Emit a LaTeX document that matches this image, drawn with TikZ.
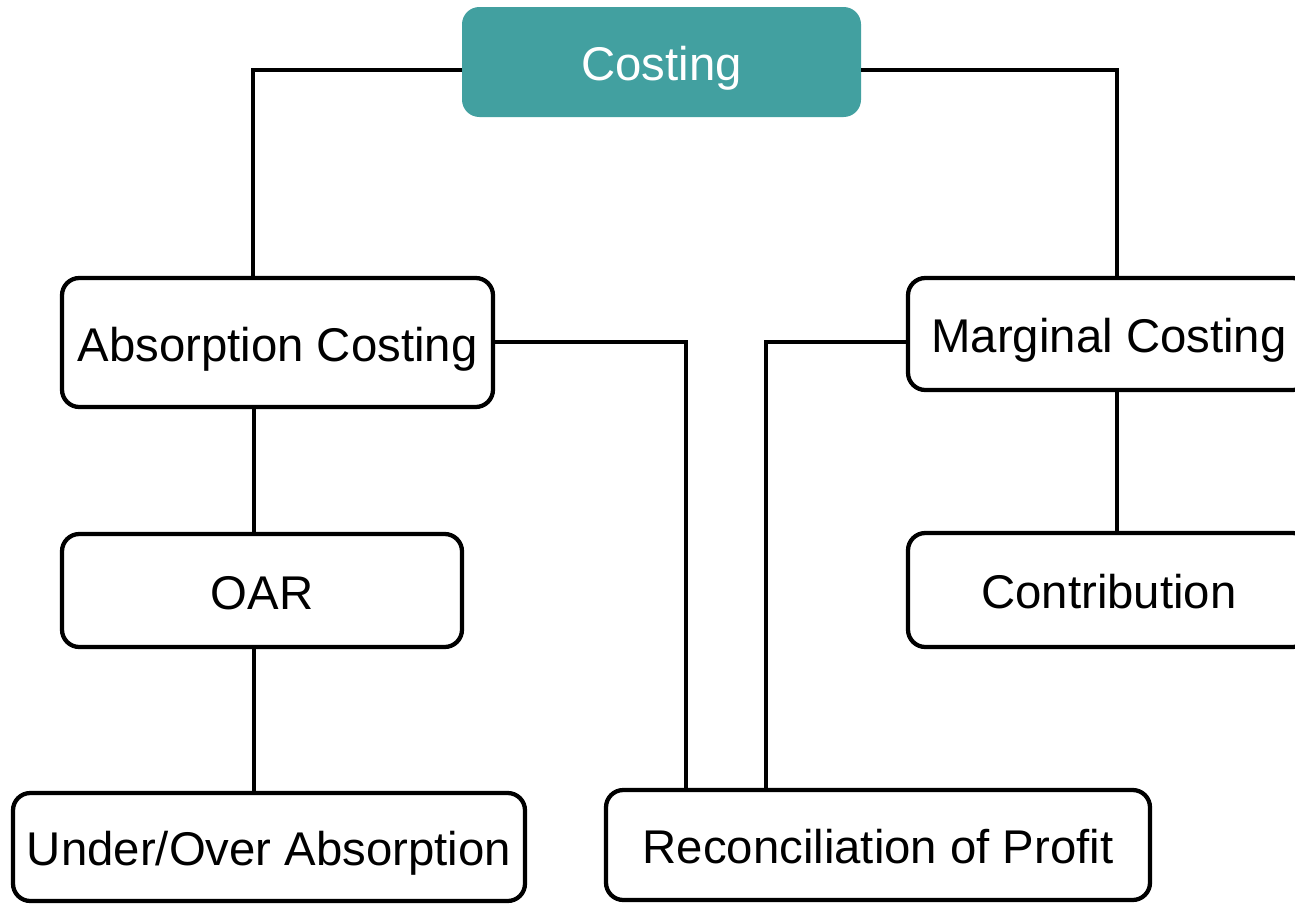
\documentclass[tikz,border=0pt]{standalone}
\usepackage{fontspec}
\setmainfont{Liberation Sans}
\definecolor{tealbox}{RGB}{66,160,160}
\begin{document}
\begin{tikzpicture}[x=0.75pt,y=-0.75pt,
  box/.style={draw=black, line width=3.2pt, rounded corners=13pt, fill=white,
    inner sep=0pt, outer sep=0pt, text height=28.4pt, text depth=0pt,
    font=\fontsize{35.5}{40}\selectfont},
  topbox/.style={fill=tealbox, draw=none, rounded corners=13pt, text=white,
    inner sep=0pt, outer sep=0pt, text height=28.4pt, text depth=0pt,
    font=\fontsize{35.5}{40}\selectfont},
  conn/.style={draw=black, line width=2.3pt}]
\useasboundingbox (0,0) rectangle (1295,903);
\clip (0,0) rectangle (1295,903);
\node[topbox, minimum width=399*0.75pt, minimum height=110*0.75pt] (cost) at (661.5,62) {Costing};
\node[box, minimum width=431*0.75pt, minimum height=129*0.75pt] (abs) at (277.5,342.5) {Absorption Costing};
\node[box, minimum width=402*0.75pt, minimum height=112*0.75pt] (marg) at (1109,334) {Marginal Costing};
\node[box, minimum width=400*0.75pt, minimum height=113*0.75pt] (oar) at (262,590.5) {OAR};
\node[box, minimum width=402*0.75pt, minimum height=114*0.75pt] (contr) at (1109,590) {Contribution};
\node[box, minimum width=512*0.75pt, minimum height=108*0.75pt] (under) at (269,847) {Under/Over Absorption};
\node[box, minimum width=544*0.75pt, minimum height=110*0.75pt] (recon) at (878,845) {Reconciliation of Profit};
\draw[conn] (cost.west |- 0,70) -| (abs.north -| 253,0);
\draw[conn] (cost.east |- 0,70) -| (marg.north -| 1117,0);
\draw[conn] (abs.east |- 0,342) -| (recon.north -| 686,0);
\draw[conn] (marg.west |- 0,342) -| (recon.north -| 766,0);
\draw[conn] (abs.south -| 254,0) -- (oar.north -| 254,0);
\draw[conn] (oar.south -| 254,0) -- (under.north -| 254,0);
\draw[conn] (marg.south -| 1117,0) -- (contr.north -| 1117,0);
\end{tikzpicture}
\end{document}
